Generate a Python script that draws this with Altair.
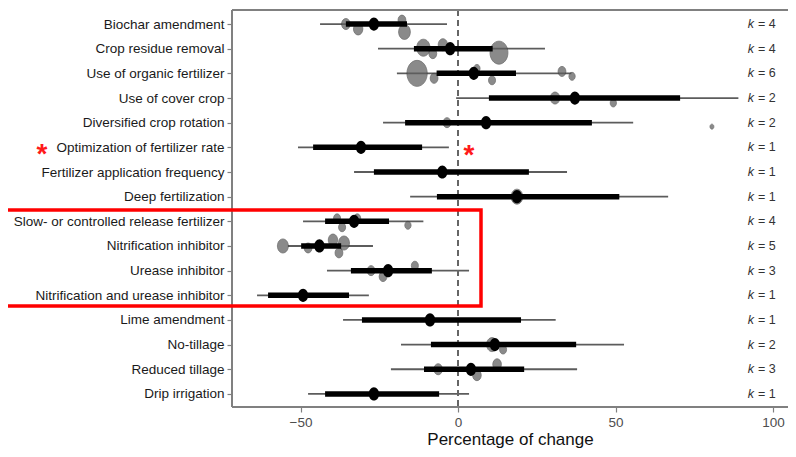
import json
import altair as alt
import pandas as pd

labels = [
    "Biochar amendment", "Crop residue removal", "Use of organic fertilizer",
    "Use of cover crop", "Diversified crop rotation", "Optimization of fertilizer rate",
    "Fertilizer application frequency", "Deep fertilization",
    "Slow- or controlled release fertilizer", "Nitrification inhibitor",
    "Urease inhibitor", "Nitrification and urease inhibitor", "Lime amendment",
    "No-tillage", "Reduced tillage", "Drip irrigation",
]
k_values = [4, 4, 6, 2, 2, 1, 1, 1, 4, 5, 3, 1, 1, 2, 3, 1]
mean = [-26.7, -2.5, 5.0, 37.1, 8.9, -30.8, -5.0, 18.7, -33.0, -44.0, -22.2, -49.2, -8.9, 11.7, 4.1, -26.7]
inner_lo = [-35.6, -14.0, -6.8, 9.8, -16.8, -46.0, -26.7, -6.7, -42.2, -49.8, -34.0, -60.3, -30.5, -8.6, -10.8, -42.2]
inner_hi = [-16.2, 11.0, 18.4, 70.5, 42.5, -11.4, 22.5, 51.2, -21.9, -37.1, -8.3, -34.6, 20.0, 37.5, 21.0, -6.0]
outer_lo = [-43.8, -25.4, -19.4, -0.6, -23.8, -50.8, -33.0, -15.2, -49.2, -54.0, -41.6, -63.8, -36.5, -18.1, -21.3, -47.6]
outer_hi = [-3.5, 27.6, 36.0, 89.0, 55.6, -2.9, 34.6, 66.7, -11.0, -27.0, 3.5, -28.3, 31.0, 52.7, 37.8, 3.5]

# individual studies (row index, effect, vertical jitter in row units, weight)
study_row = [0, 0, 0, 0, 1, 1, 1, 1, 2, 2, 2, 2, 2, 2, 3, 3, 4, 4, 7,
             8, 8, 8, 8, 9, 9, 9, 9, 9, 10, 10, 10, 13, 13, 14, 14, 14]
study_value = [-35.6, -31.7, -17.8, -17.0, -11.0, -8.0, -4.8, 13.0,
               -13.0, -7.6, 6.0, 10.8, 33.0, 36.2, 30.8, 49.3, -3.5, 80.6, 18.7,
               -38.4, -36.8, -32.0, -15.9, -55.6, -47.6, -39.7, -37.8, -36.2,
               -27.6, -23.8, -13.7, 10.8, 14.3, -6.3, 6.0, 12.4]
study_jitter = [0.0, 0.2, -0.16, 0.32, -0.04, 0.2, -0.16, 0.16,
                0.0, 0.2, -0.2, 0.28, -0.08, 0.12, 0.0, 0.2, 0.0, 0.16, 0.0,
                -0.12, 0.24, -0.12, 0.16, 0.0, 0.08, -0.24, 0.28, -0.12,
                0.0, 0.24, -0.2, 0.0, 0.2, 0.0, 0.24, -0.2]
study_weight = [1.21, 1.44, 1.0, 2.25, 2.89, 1.0, 1.44, 5.29,
                6.76, 1.0, 0.64, 0.81, 1.0, 0.64, 1.44, 0.64, 1.0, 0.25, 2.25,
                0.81, 0.81, 0.81, 0.64, 1.96, 1.0, 1.44, 1.0, 1.96,
                1.0, 1.0, 0.81, 1.96, 0.81, 1.21, 1.21, 1.21]

starred_rows = [5]
boxed_rows = [8, 11]

rows = pd.DataFrame({
    "row": list(range(len(labels))),
    "label": labels,
    "k": [f"= {v}" for v in k_values],
    "mean": mean,
    "lo": inner_lo, "hi": inner_hi,
    "lo2": outer_lo, "hi2": outer_hi,
})
studies = pd.DataFrame({
    "row": study_row,
    "ypos": [r + j for r, j in zip(study_row, study_jitter)],
    "value": study_value,
    "weight": study_weight,
})
stars = pd.DataFrame({"row": starred_rows, "x": [3.5]})
box = pd.DataFrame({"r0": [boxed_rows[0] - 0.46], "r1": [boxed_rows[1] + 0.43]})

FONT = "Liberation Sans"
ELLIPSE = "M -0.78 0 A 0.78 1 0 1 0 0.78 0 A 0.78 1 0 1 0 -0.78 0 Z"
W, H = 556, 397
FRAME = "#808080"

xscale = alt.Scale(domain=[-71.75, 104.75], nice=False, zero=False)
yscale = alt.Scale(domain=[-0.57, 15.53], nice=False, zero=False, reverse=True)

label_expr = json.dumps(labels) + "[datum.value]"

x_axis = alt.Axis(
    values=[-50, 0, 50, 100], grid=False, title="Percentage of change",
    labelFontSize=13.5, labelColor="#4d4d4d", labelFont=FONT, labelPadding=3,
    labelFlush=False, labelOverlap=False,
    tickSize=5, tickColor=FRAME, domain=False,
    tickWidth=1.2, titleFont=FONT, titleFontSize=17, titleFontWeight="normal",
    titleColor="#111111", titlePadding=3,
)
y_axis = alt.Axis(
    values=list(range(len(labels))), labelExpr=label_expr, grid=False, title=None,
    labelFontSize=13.5, labelColor="#1a1a1a", labelFont=FONT, labelPadding=3,
    labelOverlap=False, labelFlush=False, labelBound=False,
    tickSize=5, tickColor=FRAME, domain=False,
    tickWidth=1.2, labelLimit=400,
)

def X(field, **kw):
    return alt.X(field, scale=xscale, axis=x_axis, **kw)

def Y(field, **kw):
    return alt.Y(field, scale=yscale, axis=y_axis, **kw)

base = alt.Chart(rows)

outer = base.mark_rule(color="#5c5c5c", strokeWidth=1.8).encode(
    x=X("lo2:Q"), x2="hi2:Q", y=Y("row:Q"),
)
zero_line = base.mark_rule(color="#666666", strokeDash=[6, 4], strokeWidth=1.2).encode(
    x=alt.X(datum=0, type="quantitative", scale=xscale, axis=x_axis),
    y=alt.value(0), y2=alt.value(H),
)
# plot frame: top, left and bottom edges (right edge is cut off in the original)
top_line = base.mark_rule(color=FRAME, strokeWidth=1.5).encode(
    x=alt.value(0), x2=alt.value(W), y=alt.value(0)
)
bottom_line = base.mark_rule(color=FRAME, strokeWidth=1.5).encode(
    x=alt.value(0), x2=alt.value(W), y=alt.value(H)
)
left_line = base.mark_rule(color=FRAME, strokeWidth=1.5).encode(
    x=alt.value(0), y=alt.value(0), y2=alt.value(H)
)
bubbles = alt.Chart(studies).mark_point(
    shape=ELLIPSE, filled=True, color="#5e5e5e", opacity=0.72,
    stroke="#3c3c3c", strokeWidth=0.8,
).encode(
    x=X("value:Q"),
    y=Y("ypos:Q"),
    size=alt.Size("weight:Q", scale=alt.Scale(domain=[0, 10], range=[0, 1000]), legend=None),
)
inner = base.mark_rule(color="black", strokeWidth=5.5, strokeCap="butt").encode(
    x=X("lo:Q"), x2="hi:Q", y=Y("row:Q")
)
dots = base.mark_point(shape=ELLIPSE, filled=True, color="black", opacity=1, size=175).encode(
    x=X("mean:Q"), y=Y("row:Q")
)
k_italic = base.mark_text(
    text="k", font=FONT, fontSize=12.5, fontStyle="italic", color="#333333",
    align="right", baseline="middle",
).encode(x=alt.value(522), y=Y("row:Q"))
k_num = base.mark_text(
    font=FONT, fontSize=12.5, color="#333333", align="left", baseline="middle",
).encode(x=alt.value(526), y=Y("row:Q"), text="k:N")

star_label = alt.Chart(stars).mark_text(
    text="*", font=FONT, fontSize=28, fontWeight="bold", color="#ff1a1a",
    align="center", baseline="alphabetic", dy=16,
).encode(x=alt.value(-190), y=Y("row:Q"))
star_plot = alt.Chart(stars).mark_text(
    text="*", font=FONT, fontSize=28, fontWeight="bold", color="#ff1a1a",
    align="center", baseline="alphabetic", dy=17,
).encode(x=X("x:Q"), y=Y("row:Q"))

red_box = alt.Chart(box).mark_rect(
    fill=None, fillOpacity=0, stroke="#ff0000", strokeWidth=3.5,
).encode(
    x=alt.value(-227), x2=alt.value(249),
    y=Y("r0:Q"), y2="r1:Q",
)

chart = alt.layer(
    outer, zero_line, top_line, bottom_line, left_line, bubbles, inner, dots,
    k_italic, k_num, star_label, star_plot, red_box,
).properties(
    width=W, height=H, background="white",
    autosize=alt.AutoSizeParams(type="none"),
    padding={"left": 224, "top": 2, "right": 0, "bottom": 42},
).configure_view(
    stroke=None, strokeWidth=0
).configure_axis(domain=False)

chart.save("out.html", embed_options={"renderer": "svg", "actions": False})
